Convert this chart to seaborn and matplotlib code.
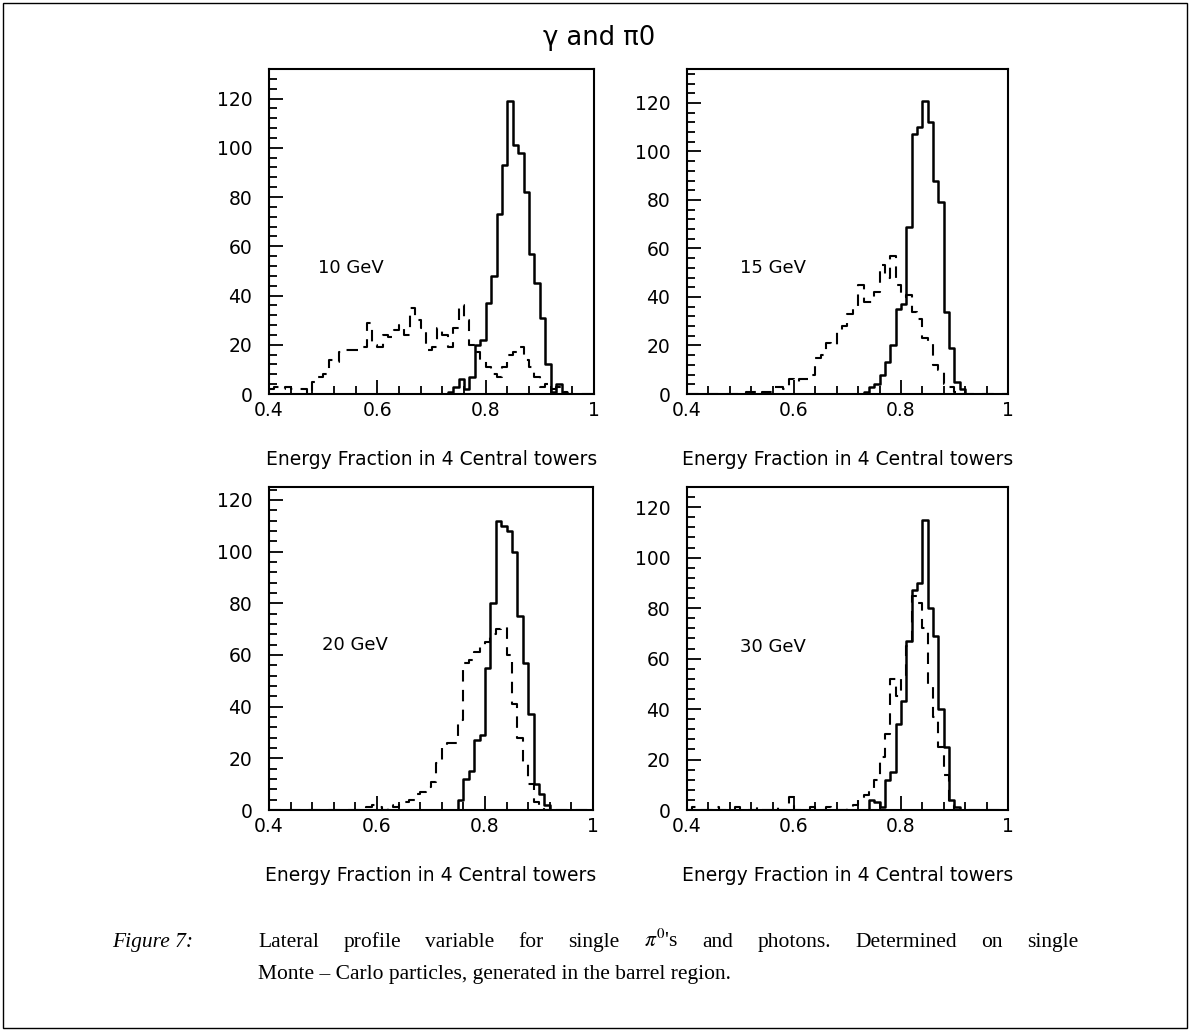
import numpy as np
import pandas as pd
import matplotlib
matplotlib.use("Agg")
import matplotlib.pyplot as plt
from matplotlib.ticker import MultipleLocator
from matplotlib.patches import Rectangle
import seaborn as sns

# ---------------- data ----------------
BIN_START = 0.40
BIN_WIDTH = 0.01
N_BINS = 60

energies = ["10 GeV", "15 GeV", "20 GeV", "30 GeV"]

# photons (solid)
photon_10 = [0, 0, 0, 0, 0, 0, 0, 0, 0, 0,
             0, 0, 0, 0, 0, 0, 0, 0, 0, 0,
             0, 0, 0, 0, 0, 0, 0, 0, 0, 0,
             0, 0, 0, 1, 3, 6, 2, 7, 20, 22,
             37, 48, 73, 93, 119, 101, 98, 82, 57, 45,
             31, 12, 1, 4, 1, 0, 0, 0, 0, 0]
photon_15 = [0, 0, 0, 0, 0, 0, 0, 0, 0, 0,
             0, 0, 0, 0, 0, 0, 0, 0, 0, 0,
             0, 0, 0, 0, 0, 0, 0, 0, 0, 0,
             0, 0, 0, 1, 3, 4, 8, 13, 20, 35,
             37, 69, 107, 110, 121, 112, 88, 79, 34, 19,
             5, 2, 0, 0, 0, 0, 0, 0, 0, 0]
photon_20 = [0, 0, 0, 0, 0, 0, 0, 0, 0, 0,
             0, 0, 0, 0, 0, 0, 0, 0, 0, 0,
             0, 0, 0, 0, 0, 0, 0, 0, 0, 0,
             0, 0, 0, 0, 0, 4, 12, 15, 27, 29,
             55, 80, 112, 110, 108, 100, 75, 57, 37, 10,
             6, 2, 0, 0, 0, 0, 0, 0, 0, 0]
photon_30 = [0, 0, 0, 0, 0, 0, 0, 0, 0, 0,
             0, 0, 0, 0, 0, 0, 0, 0, 0, 0,
             0, 0, 0, 0, 0, 0, 0, 0, 0, 0,
             0, 0, 0, 0, 4, 3, 1, 12, 15, 34,
             43, 67, 87, 90, 115, 80, 69, 40, 25, 4,
             1, 0, 0, 0, 0, 0, 0, 0, 0, 0]

# pi0 (dashed)
pi0_10 = [2, 3, 2, 3, 2, 2, 2, 0, 5, 7,
          8, 14, 13, 17, 18, 18, 18, 19, 29, 20,
          19, 24, 23, 26, 28, 24, 35, 30, 27, 18,
          19, 27, 24, 19, 27, 36, 30, 20, 17, 14,
          11, 8, 7, 11, 16, 17, 19, 14, 11, 7,
          3, 4, 2, 3, 1, 0, 0, 0, 0, 0]
pi0_15 = [0, 0, 0, 0, 0, 0, 0, 0, 0, 0,
          0, 1, 1, 0, 1, 1, 3, 3, 2, 6,
          5, 6, 6, 8, 15, 16, 21, 20, 26, 28,
          33, 36, 45, 38, 38, 42, 53, 48, 57, 45,
          40, 41, 34, 31, 23, 22, 12, 10, 4, 3,
          1, 0, 0, 0, 0, 0, 0, 0, 0, 0]
pi0_20 = [0, 0, 0, 0, 0, 0, 0, 0, 0, 0,
          0, 0, 0, 0, 0, 0, 0, 0, 1, 2,
          1, 0, 2, 1, 3, 3, 4, 6, 7, 9,
          11, 18, 25, 26, 26, 35, 57, 58, 61, 63,
          65, 68, 70, 71, 60, 41, 28, 18, 10, 3,
          1, 0, 1, 0, 0, 0, 0, 0, 0, 0]
pi0_30 = [0, 1, 0, 0, 0, 1, 0, 0, 0, 1,
          0, 0, 0, 1, 0, 0, 1, 0, 0, 5,
          0, 0, 0, 1, 0, 0, 1, 0, 0, 0,
          1, 2, 4, 6, 8, 12, 21, 30, 52, 45,
          52, 65, 85, 82, 72, 50, 37, 25, 14, 2,
          0, 0, 0, 0, 0, 0, 0, 0, 0, 0]

photons = [photon_10, photon_15, photon_20, photon_30]
pions = [pi0_10, pi0_15, pi0_20, pi0_30]

x_tick_values = [0.4, 0.6, 0.8, 1.0]
x_tick_labels = ["0.4", "0.6", "0.8", "1"]
y_tick_values = [0, 20, 40, 60, 80, 100, 120]
y_tick_labels = ["0", "20", "40", "60", "80", "100", "120"]
y_upper = [132, 134, 125, 128]

title_text = "γ and π0"
xlabel_text = "Energy Fraction in 4 Central towers"
caption_label = "Figure 7:"
caption_line1 = ["Lateral", "profile", "variable", "for", "single", r"$\pi^0$'s", "and",
                 "photons.", "Determined", "on", "single"]
caption_line2 = "Monte – Carlo particles, generated in the barrel region."

# ---------------- figure ----------------
W, H = 1190, 1031
sns.set_theme(style="ticks")
plt.rcParams["font.family"] = ["DejaVu Sans"]
plt.rcParams["mathtext.fontset"] = "stix"
plt.rcParams["axes.edgecolor"] = "black"
plt.rcParams["axes.linewidth"] = 1.5

fig = plt.figure(figsize=(W / 100, H / 100), dpi=100)
fig.patch.set_facecolor("white")

# pixel boxes (left, top, right, bottom)
boxes = [(269, 69, 594, 394), (687, 69, 1008, 394),
         (269, 487, 593, 810), (687, 487, 1008, 810)]
label_pos = [(0.15, 0.387), (0.166, 0.387), (0.164, 0.51), (0.166, 0.505)]

edges = (BIN_START + BIN_WIDTH * np.arange(N_BINS + 1)).round(3)
centers = edges[:-1] + BIN_WIDTH / 2
bin_list = edges.tolist()

for i, (l, t, r, b) in enumerate(boxes):
    ax = fig.add_axes([l / W, 1 - b / H, (r - l) / W, (b - t) / H])
    df = pd.DataFrame({"x": centers, "photon": photons[i], "pi0": pions[i]})
    sns.histplot(data=df, x="x", weights="photon", bins=bin_list, element="step",
                 fill=False, color="black", linewidth=1.8, ax=ax)
    sns.histplot(data=df, x="x", weights="pi0", bins=bin_list, element="step",
                 fill=False, color="black", linewidth=1.5,
                 linestyle=(0, (5.5, 4.0)), ax=ax)
    ax.set_xlim(0.4, 1.0)
    ax.set_ylim(0, y_upper[i])
    ax.set_ylabel("")
    ax.set_xlabel(xlabel_text, fontsize=13.5, color="black")
    ax.xaxis.set_label_coords(0.5, -0.172)
    ax.set_xticks(x_tick_values, x_tick_labels)
    ax.set_yticks(y_tick_values, y_tick_labels)
    ax.xaxis.set_minor_locator(MultipleLocator(0.04))
    ax.yaxis.set_minor_locator(MultipleLocator(4))
    ax.tick_params(which="both", direction="in", top=False, right=False,
                   colors="black", width=1.3, labelsize=13.5)
    ax.tick_params(which="major", length=10)
    ax.tick_params(which="minor", length=6)
    ax.tick_params(axis="x", which="major", pad=5)
    ax.tick_params(axis="y", which="major", pad=12)
    for sp in ax.spines.values():
        sp.set_visible(True)
        sp.set_color("black")
        sp.set_linewidth(1.5)
    ax.set_facecolor("white")
    ax.text(label_pos[i][0], label_pos[i][1], energies[i], transform=ax.transAxes,
            ha="left", va="center", fontsize=13, color="black")

# title
fig.text(599 / W, 1 - 38 / H, title_text, ha="center", va="center",
         fontsize=18.5, color="black")

# caption
serif = "Liberation Serif"
fig.text(112 / W, 1 - 947 / H, caption_label, ha="left", va="baseline",
         fontsize=15.5, style="italic", family=serif, color="black")

renderer = fig.canvas.get_renderer()
words = [fig.text(0, 1 - 947 / H, w, ha="left", va="baseline", fontsize=15.5,
                  family=serif, color="black") for w in caption_line1]
widths = [t.get_window_extent(renderer).width for t in words]
x0, x1 = 258, 1078
gap = (x1 - x0 - sum(widths)) / (len(words) - 1)
x = x0
for t, w in zip(words, widths):
    t.set_x(x / W)
    x += w + gap

fig.text(258 / W, 1 - 979 / H, caption_line2, ha="left", va="baseline",
         fontsize=15.5, family=serif, color="black")

# outer frame
fig.patches.append(Rectangle((3 / W, 3 / H), 1 - 6 / W, 1 - 6 / H,
                             transform=fig.transFigure, fill=False,
                             edgecolor="black", linewidth=1.0))

fig.savefig("out.png", dpi=100, facecolor="white")
